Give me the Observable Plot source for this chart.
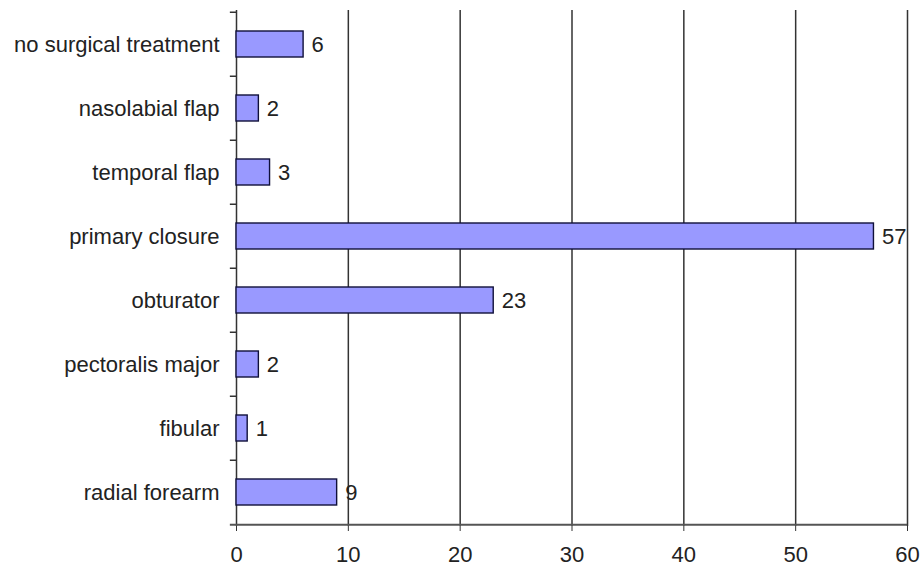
<!DOCTYPE html>
<html>
<head>
<meta charset="utf-8">
<script src="https://cdn.jsdelivr.net/npm/d3@7"></script>
<script src="https://cdn.jsdelivr.net/npm/@observablehq/plot@0.6"></script>
<style>
body { margin: 0; background: #fff; }
</style>
</head>
<body>
<div id="chart"></div>
<script>
const categories = ["no surgical treatment", "nasolabial flap", "temporal flap", "primary closure", "obturator", "pectoralis major", "fibular", "radial forearm"];
const values = [6, 2, 3, 57, 23, 2, 1, 9];
const xTicks = [0, 10, 20, 30, 40, 50, 60];

const data = categories.map((c, i) => ({category: c, value: values[i]}));

const fontFamily = "Liberation Sans, Arial, sans-serif";
const chart = Plot.plot({
  width: 922,
  height: 569,
  marginLeft: 236,
  marginRight: 15,
  marginTop: 10,
  marginBottom: 43,
  style: {fontFamily, fontSize: "22px", color: "#222", background: "#fff"},
  x: {domain: [0, 60], ticks: xTicks},
  y: {domain: categories, paddingInner: 0.6, paddingOuter: 0.3},
  marks: [
    Plot.ruleX(xTicks, {stroke: "#333", strokeWidth: 1.5}),
    Plot.ruleY(categories, {y: d => d, x1: -0.55, x2: 0, dy: -32.25, stroke: "#333", strokeWidth: 1.5}),
    Plot.ruleY([categories[categories.length - 1]], {x1: -0.55, x2: 60, dy: 32.25, stroke: "#555", strokeWidth: 2}),
    Plot.barX(data, {y: "category", x: "value", fill: "#9999ff", stroke: "#10103a", strokeWidth: 1.4}),
    Plot.text(data, {y: "category", x: "value", text: d => String(d.value), textAnchor: "start", dx: 8, fill: "#222", fontSize: 22}),
    Plot.axisX({ticks: xTicks, tickSize: 5, tickPadding: 15, label: null, fontSize: 22, stroke: "#333"}),
    Plot.axisY({tickSize: 0, tickPadding: 17, label: null, fontSize: 22})
  ]
});
document.getElementById("chart").appendChild(chart);
</script>
</body>
</html>
